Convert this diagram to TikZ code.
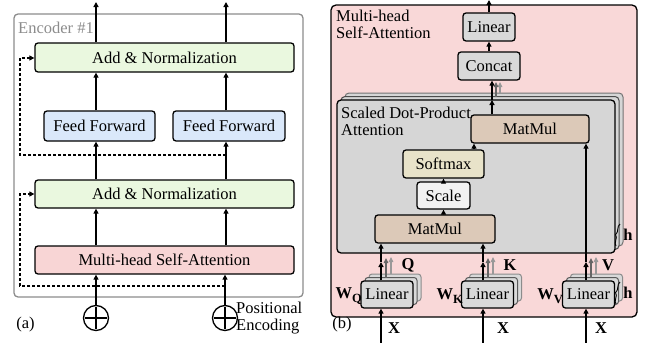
\documentclass[tikz,border=0pt]{standalone}
\usepackage{fontspec}
\setmainfont{Liberation Serif}
\usetikzlibrary{arrows.meta,calc,decorations.pathreplacing}
\definecolor{cgreen}{HTML}{EAF8DF}
\definecolor{cblue}{HTML}{DAE8FA}
\definecolor{cpink}{HTML}{F8D5D5}
\definecolor{cpinkbg}{HTML}{F9D8D8}
\definecolor{cgray}{HTML}{D9D9D9}
\definecolor{csdpa}{HTML}{D6D6D6}
\definecolor{ctan}{HTML}{DCC9B8}
\definecolor{csoft}{HTML}{E8E3C9}
\definecolor{cscale}{HTML}{F2F2F2}
\newcommand{\wsub}[1]{\textbf{W}\raisebox{-4.5pt}{\fontsize{12.5}{13}\selectfont\bfseries #1}}
\begin{document}
\begin{tikzpicture}[x=1pt,y=-1pt,
  box/.style={draw=black,line width=1.3pt,rounded corners=3pt,inner sep=0pt,font=\fontsize{16.5}{18}\selectfont},
  backbox/.style={draw=black!60,line width=1pt,rounded corners=3pt,fill=cgray},
  arr/.style={line width=1.3pt,-{Triangle[length=5pt,width=5pt]}},
  garr/.style={line width=1.1pt,-{Triangle[length=5pt,width=4.5pt]}},
  dashline/.style={line width=1.2pt,dash pattern=on 3pt off 2pt},
  lbl/.style={inner sep=0pt,font=\fontsize{16.5}{18}\selectfont},
  blbl/.style={inner sep=0pt,font=\fontsize{16.5}{18}\selectfont\bfseries},
  plus/.style={draw=black,line width=1.3pt,circle,minimum size=25pt,inner sep=0pt},
  hbrace/.style={line width=0.9pt,decorate,decoration={brace,amplitude=2.5pt}}
]
\useasboundingbox (0,0) rectangle (649,343);
% ---------------- (a) ----------------
\draw[draw=black!45,line width=1.3pt,rounded corners=4pt] (14,14) rectangle (303,297);
\node[lbl,anchor=west,text=black!45] (enc) at (18,28) {Encoder \#1};
\node[box,fill=cgreen,minimum width=259,minimum height=29] (an1) at (164.5,57.5) {Add \& Normalization};
\node[box,fill=cblue,minimum width=111,minimum height=30] (ff1) at (99.5,126) {Feed Forward};
\node[box,fill=cblue,minimum width=112,minimum height=30] (ff2) at (229,126) {Feed Forward};
\node[box,fill=cgreen,minimum width=259,minimum height=28] (an2) at (164.5,194) {Add \& Normalization};
\node[box,fill=cpink,minimum width=259,minimum height=28] (mh) at (164.5,260) {Multi-head Self-Attention};
\node[plus] (p1) at (96,318) {};
\node[plus] (p2) at (225,318) {};
\foreach \p in {p1,p2}{
  \draw[line width=1.3pt] ($(\p.west)+(2,0)$) -- ($(\p.east)+(-2,0)$);
  \draw[line width=1.3pt] ($(\p.north)+(0,2)$) -- ($(\p.south)+(0,-2)$);
}
\coordinate (o1) at (96,2);
\coordinate (o2) at (226,2);
\draw[arr] (an1.north -| o1) -- (o1);
\draw[arr] (an1.north -| o2) -- (o2);
\draw[arr] (ff1.north -| o1) -- (an1.south -| o1);
\draw[arr] (ff2.north -| o2) -- (an1.south -| o2);
\draw[arr] (an2.north -| o1) -- (ff1.south -| o1);
\draw[arr] (an2.north -| o2) -- (ff2.south -| o2);
\draw[arr] (mh.north -| o1) -- (an2.south -| o1);
\draw[arr] (mh.north -| o2) -- (an2.south -| o2);
\draw[arr] (p1.north) -- (mh.south -| p1);
\draw[arr] (p2.north) -- (mh.south -| p2);
\coordinate (d1) at (226,155);
\coordinate (d2) at (225,286);
\draw[dashline,-{Triangle[length=5pt,width=5pt]}] (d1) -- (20,155) -- (20,58) -- (an1.west |- 0,58);
\draw[dashline,-{Triangle[length=5pt,width=5pt]}] (d2) -- (20,286) -- (20,194) -- (an2.west);
\node[lbl,anchor=west,align=left] (pe) at (236,318) {Positional\\[-1pt]Encoding};
\node[lbl] (la) at (25.5,325) {(a)};
% ---------------- (b) ----------------
\draw[draw=black,line width=1.3pt,rounded corners=5pt,fill=cpinkbg] (331,5) rectangle (637,317);
\node[lbl,anchor=north west,align=left] (mhlab) at (336,10) {Multi-head\\[-1pt]Self-Attention};
\node[box,fill=cgray,minimum width=52,minimum height=28] (lin0) at (489,27) {Linear};
\node[box,fill=cgray,minimum width=62,minimum height=28] (cat) at (489,66) {Concat};
% stacked SDPA
\draw[draw=black!55,line width=1pt,rounded corners=4pt,fill=csdpa] (345,93) rectangle (623,246);
\draw[draw=black!70,line width=1pt,rounded corners=4pt,fill=csdpa] (341,96.5) rectangle (619,249.5);
\draw[draw=black,line width=1.3pt,rounded corners=4pt,fill=csdpa] (337,100) rectangle (615,253);
\node[lbl,anchor=north west,align=left] (sdlab) at (341,107) {Scaled Dot-Product\\[-1pt]Attention};
\node[box,fill=ctan,minimum width=118,minimum height=28] (mm1) at (530,129) {MatMul};
\node[box,fill=csoft,minimum width=81,minimum height=28] (soft) at (443.5,164) {Softmax};
\node[box,fill=cscale,minimum width=53,minimum height=27] (scl) at (443.5,195.5) {Scale};
\node[box,fill=ctan,minimum width=120,minimum height=28] (mm2) at (435,229) {MatMul};
% stacked Linear boxes
\foreach \n/\cx in {lq/387,lk/487.5,lv/588.5}{
  \draw[backbox,draw=black!45] (\cx-26+8,281-7) rectangle (\cx+26+8,308-7);
  \draw[backbox,draw=black!65] (\cx-26+4,281-3.5) rectangle (\cx+26+4,308-3.5);
  \node[box,fill=cgray,minimum width=52,minimum height=27] (\n) at (\cx,294.5) {Linear};
}
% arrows inside (b)
\draw[arr] (lin0.north) -- (489,0);
\draw[arr] (cat.north) -- (lin0.south);
\coordinate (t0) at (492,100);
\draw[garr,black!40] (500,93) -- (500,82);
\draw[garr,black!60] (496,96.5) -- (496,82);
\draw[arr] (mm1.north -| t0) -- (t0);
\draw[arr] (t0) -- (cat.south -| t0);
\draw[arr] (soft.north -| 474,0) -- (mm1.south -| 474,0);
\draw[arr] (scl.north) -- (soft.south);
\draw[arr] (mm2.north -| scl) -- (scl.south);
\foreach \n/\ax/\tgt in {lq/381/mm2,lk/483/mm2,lv/586/mm1}{
  \coordinate (m\n) at (\ax,262);
  \draw[garr,black!40] (\ax+10,274) -- (\ax+10,257);
  \draw[garr,black!60] (\ax+5,277.5) -- (\ax+5,258);
  \draw[arr] (\n.north -| m\n) -- (m\n);
  \draw[arr] (m\n) -- (\tgt.south -| m\n);
  \coordinate (b\n) at (\ax,343);
  \draw[arr] (b\n) -- (\n.south -| b\n);
}
% labels
\node[blbl] (lQ) at (408,265) {Q};
\node[blbl] (lK) at (510,265) {K};
\node[blbl] (lV) at (608,265) {V};
\node[blbl,anchor=east] (wq) at (362,296) {\wsub{Q}};
\node[blbl,anchor=east] (wk) at (463,296) {\wsub{K}};
\node[blbl,anchor=east] (wv) at (563,296) {\wsub{V}};
\node[blbl] (xq) at (394,328) {X};
\node[blbl] (xk) at (503,328) {X};
\node[blbl] (xv) at (601,328) {X};
\node[lbl] (lb) at (342,325) {(b)};
% h braces
\draw[hbrace] (616,246) -- (620,224);
\node[blbl] (h1) at (628,235) {h};
\draw[hbrace] (616,304) -- (620,282);
\node[blbl] (h2) at (628,293) {h};
\end{tikzpicture}
\end{document}
